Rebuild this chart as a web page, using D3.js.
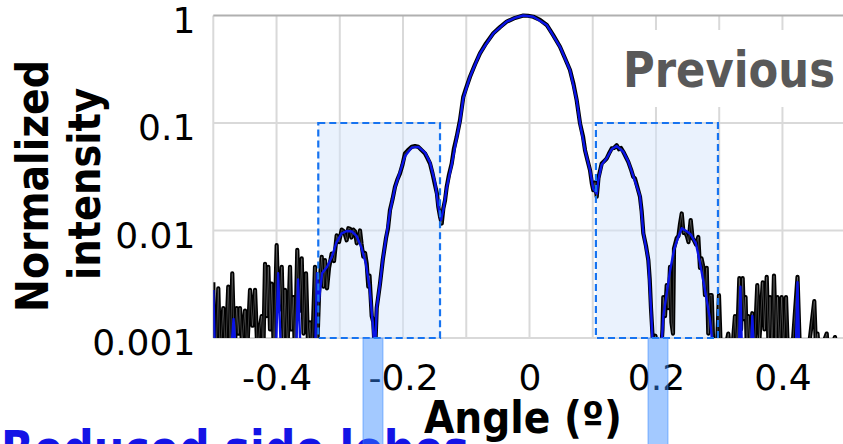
<!DOCTYPE html>
<html>
<head>
<meta charset="utf-8">
<script src="https://cdn.jsdelivr.net/npm/d3@7"></script>
<style>
  body { margin: 0; background: #fff; }
  svg { display: block; }
</style>
</head>
<body>
<svg id="svg" width="843" height="444"></svg>
<script>
// angle (deg) / normalized intensity (values < 0.001 fall below the axis)
const measured = [
  [-0.5,0.0033],[-0.4989,0.0007],[-0.4957,0.0007],[-0.4921,0.0029],[-0.4894,0.0007],[-0.4842,0.0019],[-0.4807,0.0007],
  [-0.4763,0.003],[-0.4731,0.0007],[-0.47,0.004],[-0.4665,0.0007],[-0.463,0.0019],[-0.4605,0.0011],[-0.4578,0.0019],
  [-0.4546,0.0009],[-0.4498,0.0018],[-0.4467,0.0007],[-0.4419,0.0028],[-0.438,0.0013],[-0.434,0.0028],[-0.4301,0.0007],
  [-0.4269,0.0012],[-0.4235,0.0016],[-0.4209,0.0007],[-0.4182,0.0049],[-0.4156,0.0016],[-0.413,0.0046],[-0.4103,0.0012],
  [-0.4077,0.0032],[-0.404,0.0007],[-0.3998,0.0073],[-0.3969,0.0018],[-0.3945,0.0021],[-0.3918,0.0046],[-0.389,0.0009],
  [-0.3866,0.0028],[-0.3827,0.0008],[-0.3787,0.0046],[-0.3763,0.0012],[-0.3735,0.0024],[-0.3708,0.0007],[-0.3672,0.0066],
  [-0.3637,0.0018],[-0.3602,0.0055],[-0.3574,0.0011],[-0.3534,0.004],[-0.3503,0.0009],[-0.3471,0.0014],[-0.3439,0.0007],
  [-0.3392,0.0046],[-0.336,0.0007],
  [-0.3324,0.003],[-0.3286,0.0057],[-0.3257,0.003],[-0.3234,0.0053],[-0.3202,0.0029],[-0.317,0.0045],[-0.3128,0.0061],
  [-0.3091,0.0052],[-0.3049,0.009],[-0.3012,0.0078],[-0.297,0.0102],[-0.2933,0.0098],[-0.2891,0.0081],[-0.2865,0.0105],
  [-0.2838,0.0104],[-0.2815,0.0086],[-0.2786,0.0102],[-0.2759,0.0098],[-0.2732,0.0076],[-0.2704,0.0085],[-0.268,0.01],
  [-0.2656,0.0075],[-0.2628,0.0057],[-0.2601,0.0062],[-0.2574,0.0049],[-0.2549,0.003],[-0.253,0.0038],[-0.2495,0.0016],
  [-0.247,0.0014],[-0.2443,0.0007],
  [-0.2416,0.0019],[-0.2364,0.0032],[-0.2321,0.0053],[-0.2269,0.0085],[-0.2237,0.0105],[-0.2206,0.0155],[-0.2166,0.0195],
  [-0.2127,0.0255],[-0.2087,0.03],[-0.2048,0.034],[-0.2008,0.041],[-0.1969,0.0521],[-0.1921,0.056],[-0.1863,0.06],
  [-0.1811,0.061],[-0.1758,0.06],[-0.1708,0.056],[-0.1652,0.0521],[-0.1613,0.047],[-0.1573,0.042],[-0.1534,0.034],
  [-0.1494,0.0264],[-0.1463,0.022],[-0.1442,0.0166],[-0.1415,0.0135],[-0.1388,0.0116],[-0.1363,0.016],[-0.1336,0.019],
  [-0.1309,0.0255],[-0.1273,0.033],[-0.123,0.042],[-0.1194,0.058],[-0.1151,0.0744],[-0.1099,0.106],[-0.1047,0.175],
  [-0.1004,0.21],[-0.0941,0.269],[-0.0862,0.35],[-0.0783,0.445],[-0.0688,0.55],[-0.0572,0.683],[-0.0466,0.78],
  [-0.0361,0.876],[-0.0229,0.95],[-0.0098,1.0],[-0.0024,0.995],[0.006,0.974],[0.0166,0.91],[0.0272,0.816],[0.0372,0.66],
  [0.0482,0.512],[0.0561,0.40],[0.064,0.311],[0.0696,0.23],[0.0746,0.163],[0.0799,0.0992],[0.0846,0.075],[0.0878,0.0559],
  [0.0917,0.045],[0.0957,0.0364],[0.0988,0.027],[0.1009,0.0237],[0.1036,0.028],[0.1063,0.0206],[0.1091,0.031],
  [0.1142,0.042],[0.1178,0.044],[0.1221,0.0468],[0.1257,0.052],[0.13,0.058],[0.1336,0.0585],[0.1379,0.0622],
  [0.1415,0.057],[0.1447,0.0585],[0.1483,0.054],[0.1526,0.048],[0.1562,0.0435],[0.1605,0.037],[0.1641,0.0316],
  [0.1668,0.0305],[0.1708,0.025],[0.1747,0.0206],[0.1774,0.015],[0.18,0.0094],[0.1842,0.0072],[0.1879,0.0053],
  [0.1901,0.0035],[0.1921,0.0019],[0.1948,0.001],[0.1969,0.0007],[0.1991,0.00105],[0.2032,0.0007],[0.2079,0.0007],
  [0.2103,0.0012],[0.2116,0.0024],[0.2143,0.0016],[0.217,0.0031],[0.2195,0.0019],[0.2222,0.0046],[0.2245,0.0014],
  [0.2269,0.0011],[0.2285,0.0068],[0.2328,0.0085],[0.2356,0.0089],[0.238,0.0115],[0.2407,0.0144],[0.2435,0.0095],
  [0.2459,0.0097],[0.2491,0.0088],[0.2514,0.0078],[0.2549,0.0125],[0.2578,0.0085],[0.2601,0.0081],[0.2633,0.0074],
  [0.2669,0.0087],[0.2696,0.0045],[0.272,0.0055],[0.2748,0.0046],[0.2775,0.0025],[0.2802,0.0045],[0.2827,0.0011],
  [0.2854,0.0025],[0.2881,0.0025],[0.2907,0.0008],[0.2934,0.0007],[0.2965,0.0008],
  [0.2996,0.0025],[0.3027,0.0007],[0.3075,0.0007],[0.3144,0.0011],[0.317,0.0007],[0.3202,0.0007],[0.3249,0.0016],
  [0.328,0.0008],[0.3318,0.0036],[0.3345,0.0012],[0.3371,0.0036],[0.3392,0.0015],[0.3416,0.0024],[0.3439,0.0007],
  [0.346,0.0016],[0.3487,0.0009],[0.3523,0.0017],[0.3558,0.0008],[0.3602,0.0031],[0.3637,0.001],[0.3688,0.0033],
  [0.3716,0.0012],[0.3751,0.0037],[0.3779,0.0009],[0.3803,0.0024],[0.3835,0.0008],[0.3866,0.0038],[0.3897,0.0009],
  [0.3921,0.0024],[0.3953,0.0008],[0.3988,0.0024],[0.4016,0.0008],[0.4056,0.0024],[0.4087,0.0007],[0.4151,0.0007],
  [0.4238,0.0037],[0.4277,0.0007],[0.4404,0.0007],[0.4503,0.0022],[0.453,0.0008],[0.4554,0.0011],[0.4578,0.0007],
  [0.47,0.0011],[0.472,0.0007],[0.4831,0.00102],[0.4862,0.0007],[0.5,0.0007]
];

const simulated = [
  [-0.5,0.0028],[-0.4975,0.0007],[-0.472,0.0007],[-0.468,0.0015],[-0.464,0.0007],[-0.401,0.0007],[-0.3975,0.004],
  [-0.393,0.0007],[-0.369,0.0007],[-0.366,0.0035],[-0.362,0.0007],[-0.339,0.0007],[-0.336,0.004],[-0.333,0.0022],
  [-0.328,0.004],[-0.32,0.0046],[-0.312,0.0058],[-0.305,0.0078],[-0.297,0.0094],[-0.289,0.0099],[-0.281,0.0098],
  [-0.273,0.0088],[-0.266,0.007],[-0.259,0.005],[-0.253,0.003],[-0.248,0.0014],[-0.2445,0.0007],
  [-0.2416,0.0019],[-0.2364,0.0032],[-0.2321,0.0053],[-0.2269,0.0085],[-0.2206,0.015],[-0.2127,0.025],[-0.2048,0.035],
  [-0.1969,0.049],[-0.1863,0.059],[-0.1758,0.06],[-0.1652,0.053],[-0.1573,0.043],[-0.1494,0.028],[-0.1442,0.017],
  [-0.14,0.0125],[-0.1363,0.0155],[-0.1309,0.025],[-0.123,0.041],[-0.1151,0.073],[-0.1099,0.104],[-0.1047,0.17],
  [-0.0941,0.269],[-0.0783,0.445],[-0.0572,0.683],[-0.0361,0.876],[-0.0229,0.95],[-0.0098,1.0],[0.006,0.974],
  [0.0272,0.816],[0.0482,0.512],[0.064,0.311],[0.0746,0.163],[0.0799,0.099],[0.0878,0.056],[0.0957,0.0364],
  [0.1009,0.0245],[0.1063,0.022],[0.1091,0.03],[0.1142,0.041],[0.1221,0.047],[0.13,0.057],[0.1379,0.061],
  [0.1483,0.054],[0.1562,0.044],[0.1641,0.032],[0.1747,0.021],[0.18,0.0095],[0.1879,0.0053],[0.1921,0.0019],
  [0.1955,0.0007],[0.208,0.0007],[0.2116,0.0016],[0.2222,0.0042],[0.2285,0.0066],[0.2356,0.0088],[0.2407,0.0105],
  [0.2491,0.0098],[0.2549,0.0092],[0.2633,0.0075],[0.2696,0.005],[0.2775,0.0028],[0.2854,0.0015],[0.291,0.0007],
  [0.331,0.0007],[0.3335,0.003],[0.336,0.0007],[0.35,0.0007],[0.3523,0.0016],[0.355,0.0007],[0.421,0.0007],
  [0.4238,0.0033],[0.4265,0.0007],[0.5,0.0007]
];

const xGrid = [-0.5, -0.4, -0.3, -0.2, -0.1, 0, 0.1, 0.2, 0.3, 0.4, 0.5];
const xTicks = [-0.4, -0.2, 0, 0.2, 0.4];
const xTickLabels = ['-0.4', '-0.2', '0', '0.2', '0.4'];
const yTicks = [1, 0.1, 0.01, 0.001];
const yTickLabels = ['1', '0.1', '0.01', '0.001'];

// side-lobe regions [from, to] in angle, spanning intensity 0.001..0.1
const lobeBoxes = [[-0.334, -0.1415], [0.105, 0.298]];
const lobeTop = 0.1;
// first nulls marked below the axis [from, to]
const nullBands = [[-0.2633, -0.2317], [0.1874, 0.219]];

const svg = d3.select('#svg');
const x = d3.scaleLinear().domain([-0.5, 0.5]).range([213.3, 845.7]);
const y = d3.scaleLog().domain([0.001, 1]).range([338, 15.5]);
const plotRight = 843;

svg.append('clipPath').attr('id', 'plotClip')
  .append('rect')
  .attr('x', x(-0.5)).attr('y', y(1) - 3)
  .attr('width', plotRight - x(-0.5)).attr('height', y(0.001) - y(1) + 3);

// grid
const grid = svg.append('g');
grid.selectAll('.vgrid')
  .data(xGrid)
  .join('line')
  .attr('class', 'vgrid')
  .attr('x1', d => x(d)).attr('x2', d => x(d))
  .attr('y1', y(1)).attr('y2', y(0.001))
  .attr('stroke', '#d9d9d9').attr('stroke-width', 2);
grid.selectAll('.hgrid')
  .data(yTicks.slice(1))
  .join('line')
  .attr('class', 'hgrid')
  .attr('x1', x(-0.5)).attr('x2', plotRight)
  .attr('y1', d => y(d)).attr('y2', d => y(d))
  .attr('stroke', '#d9d9d9').attr('stroke-width', 1.8);

// side-lobe region fills
svg.selectAll('.boxFill')
  .data(lobeBoxes)
  .join('rect')
  .attr('class', 'boxFill')
  .attr('x', d => x(d[0])).attr('y', y(lobeTop))
  .attr('width', d => x(d[1]) - x(d[0])).attr('height', y(0.001) - y(lobeTop))
  .attr('fill', '#d6e6fc').attr('fill-opacity', 0.5);

// label backdrop
svg.append('rect')
  .attr('x', 615).attr('y', 30).attr('width', 230).attr('height', 77)
  .attr('fill', '#fff');

svg.append('line')
  .attr('x1', x(-0.5)).attr('x2', plotRight)
  .attr('y1', y(1)).attr('y2', y(1))
  .attr('stroke', '#b0b0b0').attr('stroke-width', 2);

// curves
const line = d3.line().x(d => x(d[0])).y(d => y(d[1]));
const curves = svg.append('g').attr('clip-path', 'url(#plotClip)');
curves.append('path').datum(measured)
  .attr('d', line).attr('fill', 'none')
  .attr('stroke', '#000').attr('stroke-width', 4.2).attr('stroke-linejoin', 'round');
curves.append('path').datum(measured)
  .attr('d', line).attr('fill', 'none')
  .attr('stroke', '#fff').attr('stroke-width', 0.8).attr('stroke-opacity', 0.3).attr('stroke-linejoin', 'round');
curves.append('path').datum(simulated)
  .attr('d', line).attr('fill', 'none')
  .attr('stroke', '#0a14e6').attr('stroke-width', 2.4).attr('stroke-linejoin', 'round');

// side-lobe region outlines
svg.selectAll('.boxEdge')
  .data(lobeBoxes)
  .join('rect')
  .attr('class', 'boxEdge')
  .attr('x', d => x(d[0])).attr('y', y(lobeTop))
  .attr('width', d => x(d[1]) - x(d[0])).attr('height', y(0.001) - y(lobeTop))
  .attr('fill', 'none')
  .attr('stroke', '#1673f0').attr('stroke-width', 2.2)
  .attr('stroke-dasharray', '7,4');

// axes
const font = '"DejaVu Sans", Verdana, sans-serif';
const xAxisG = svg.append('g').attr('transform', `translate(0,${y(0.001)})`)
  .call(d3.axisBottom(x).tickValues(xTicks).tickSize(0)
    .tickFormat((d, i) => xTickLabels[i]));
xAxisG.selectAll('path.domain').remove();
xAxisG.selectAll('text')
  .attr('y', 52).attr('dy', 0)
  .style('font-family', font).style('font-size', '36px').attr('fill', '#000');

const yAxisG = svg.append('g').attr('transform', `translate(${x(-0.5)},0)`)
  .call(d3.axisLeft(y).tickValues(yTicks).tickSize(0).tickPadding(18)
    .tickFormat((d, i) => yTickLabels[i]));
yAxisG.selectAll('path.domain').remove();
yAxisG.selectAll('text')
  .attr('dy', '0.47em')
  .style('font-family', font).style('font-size', '36px').attr('fill', '#000');

// titles
const bold = t => t.style('font-family', font).style('font-weight', 'bold')
  .attr('lengthAdjust', 'spacingAndGlyphs');

svg.append('text').text('Normalized')
  .attr('transform', 'translate(48,186) rotate(-90)')
  .attr('text-anchor', 'middle').style('font-size', '44px')
  .attr('textLength', 252).call(bold);
svg.append('text').text('intensity')
  .attr('transform', 'translate(100,184) rotate(-90)')
  .attr('text-anchor', 'middle').style('font-size', '44px')
  .attr('textLength', 192).call(bold);

svg.append('text').text('Angle (º)')
  .attr('x', 424).attr('y', 433)
  .style('font-size', '44px')
  .attr('textLength', 198).call(bold);

svg.append('text').text('Previous')
  .attr('x', 623).attr('y', 87)
  .attr('fill', '#595959').style('font-size', '50px')
  .attr('textLength', 212).call(bold);

svg.append('text').text('Reduced side lobes')
  .attr('x', 1).attr('y', 466)
  .attr('fill', '#1414e6').style('font-size', '50px')
  .attr('textLength', 468).call(bold);

// null markers under the axis
svg.selectAll('.nullBand')
  .data(nullBands)
  .join('rect')
  .attr('class', 'nullBand')
  .attr('x', d => x(d[0])).attr('y', y(0.001))
  .attr('width', d => x(d[1]) - x(d[0])).attr('height', 444 - y(0.001) + 2)
  .attr('fill', '#3388ff').attr('fill-opacity', 0.45)
  .attr('stroke', '#3388ff').attr('stroke-opacity', 0.35).attr('stroke-width', 1.5);
</script>
</body>
</html>
